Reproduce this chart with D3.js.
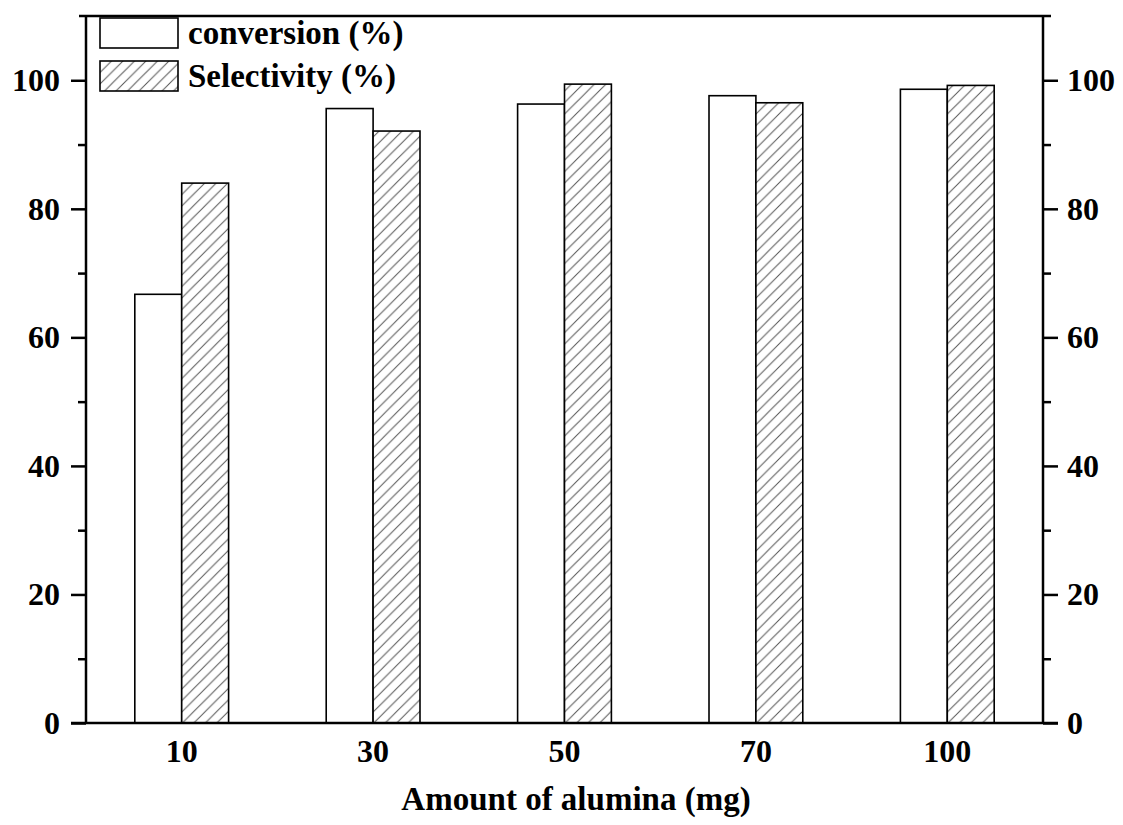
<!DOCTYPE html>
<html>
  <head>
    <meta charset="utf-8" />
    <script src="https://cdn.jsdelivr.net/npm/d3@7"></script>
    <style>
      body { margin: 0; background: #fff; }
      text { font-family: 'Liberation Serif', 'Times New Roman', serif; font-weight: bold; }
    </style>
  </head>
  <body>
    <svg id="chart" width="1123" height="825"></svg>
    <script>
      // values
      var categories = ['10', '30', '50', '70', '100'];
      var conversion = [66.7, 95.6, 96.3, 97.6, 98.6];
      var selectivity = [84.0, 92.1, 99.4, 96.5, 99.2];
      var yMajor = [0, 20, 40, 60, 80, 100];
      var yMinor = [10, 30, 50, 70, 90];
      var seriesNames = ['conversion (%)', 'Selectivity (%)'];

      var svg = d3.select('#chart');
      // plot box (note: "top" is taken by window.top, so use other names)
      var plotL = 86, plotR = 1043, plotT = 16, plotB = 723;

      svg.append('rect').attr('width', 1123).attr('height', 825).attr('fill', '#fff');

      // hatch pattern
      var defs = svg.append('defs');
      var pat = defs.append('pattern')
        .attr('id', 'hatch')
        .attr('patternUnits', 'userSpaceOnUse')
        .attr('width', 11.5)
        .attr('height', 11.5);
      pat.append('rect').attr('width', 11.5).attr('height', 11.5).attr('fill', '#fff');
      pat.append('path')
        .attr('d', 'M-1,12.5 L12.5,-1 M-3,3 L3,-3 M8.5,14.5 L14.5,8.5')
        .attr('stroke', '#555')
        .attr('stroke-width', 1);

      var sy = d3.scaleLinear().domain([0, 110]).range([plotB, plotT]);
      var sx = d3.scaleBand().domain(categories).range([plotL, plotR])
        .paddingInner(0.51).paddingOuter(0.255);
      var sub = d3.scaleBand().domain([0, 1]).range([0, sx.bandwidth()]);

      var rows = categories.map(function(c, i) {
        return { cat: c, vals: [conversion[i], selectivity[i]] };
      });

      // bars
      var groups = svg.append('g').selectAll('g')
        .data(rows)
        .enter().append('g')
        .attr('transform', function(d) { return 'translate(' + sx(d.cat) + ',0)'; });
      groups.selectAll('rect')
        .data(function(d) { return d.vals; })
        .enter().append('rect')
        .attr('x', function(d, i) { return sub(i); })
        .attr('y', function(d) { return sy(d); })
        .attr('width', sub.bandwidth())
        .attr('height', function(d) { return sy(0) - sy(d); })
        .attr('fill', function(d, i) { return i == 0 ? '#fff' : 'url(#hatch)'; })
        .attr('stroke', '#000')
        .attr('stroke-width', 1.6);

      // y axes, major + minor ticks on both sides
      function styleAxis(g) {
        g.select('.domain').remove();
        g.selectAll('line').attr('stroke', '#000').attr('stroke-width', 2.5);
        g.selectAll('text').style('font-size', '32px').attr('fill', '#000');
      }
      svg.append('g')
        .attr('transform', 'translate(' + plotL + ',0)')
        .call(d3.axisLeft(sy).tickValues(yMajor).tickSize(15).tickPadding(11))
        .call(styleAxis);
      svg.append('g')
        .attr('transform', 'translate(' + plotL + ',0)')
        .call(d3.axisLeft(sy).tickValues(yMinor).tickSize(8).tickFormat(''))
        .call(styleAxis);
      svg.append('g')
        .attr('transform', 'translate(' + plotR + ',0)')
        .call(d3.axisRight(sy).tickValues(yMajor).tickSize(15).tickPadding(9))
        .call(styleAxis);
      svg.append('g')
        .attr('transform', 'translate(' + plotR + ',0)')
        .call(d3.axisRight(sy).tickValues(yMinor).tickSize(8).tickFormat(''))
        .call(styleAxis);

      // frame lines
      var frame = svg.append('g').attr('stroke', '#000').attr('stroke-width', 2.5);
      frame.append('line').attr('x1', plotL).attr('x2', plotL).attr('y1', sy(110)).attr('y2', sy(0));
      frame.append('line').attr('x1', plotR).attr('x2', plotR).attr('y1', sy(110)).attr('y2', sy(0));
      frame.append('line').attr('x1', plotL - 15).attr('x2', plotR + 15).attr('y1', sy(0)).attr('y2', sy(0));
      frame.append('line').attr('x1', plotL - 7).attr('x2', plotR + 8).attr('y1', sy(110)).attr('y2', sy(110));

      // x axis labels, no ticks
      var xa = svg.append('g')
        .attr('transform', 'translate(0,' + plotB + ')')
        .call(d3.axisBottom(sx).tickSize(0).tickPadding(16));
      xa.select('.domain').remove();
      xa.selectAll('text').style('font-size', '32px').attr('fill', '#000');

      svg.append('text')
        .attr('x', 576)
        .attr('y', 810)
        .attr('text-anchor', 'middle')
        .style('font-size', '33px')
        .text('Amount of alumina (mg)');

      // legend
      var legend = svg.append('g').selectAll('g')
        .data(seriesNames)
        .enter().append('g')
        .attr('transform', function(d, i) { return 'translate(100,' + (18 + i * 43) + ')'; });
      legend.append('rect')
        .attr('width', 78)
        .attr('height', 30)
        .attr('fill', function(d, i) { return i == 0 ? '#fff' : 'url(#hatch)'; })
        .attr('stroke', '#000')
        .attr('stroke-width', 1.6);
      legend.append('text')
        .attr('x', 88)
        .attr('y', 26)
        .style('font-size', '33px')
        .text(function(d) { return d; });
    </script>
  </body>
</html>
